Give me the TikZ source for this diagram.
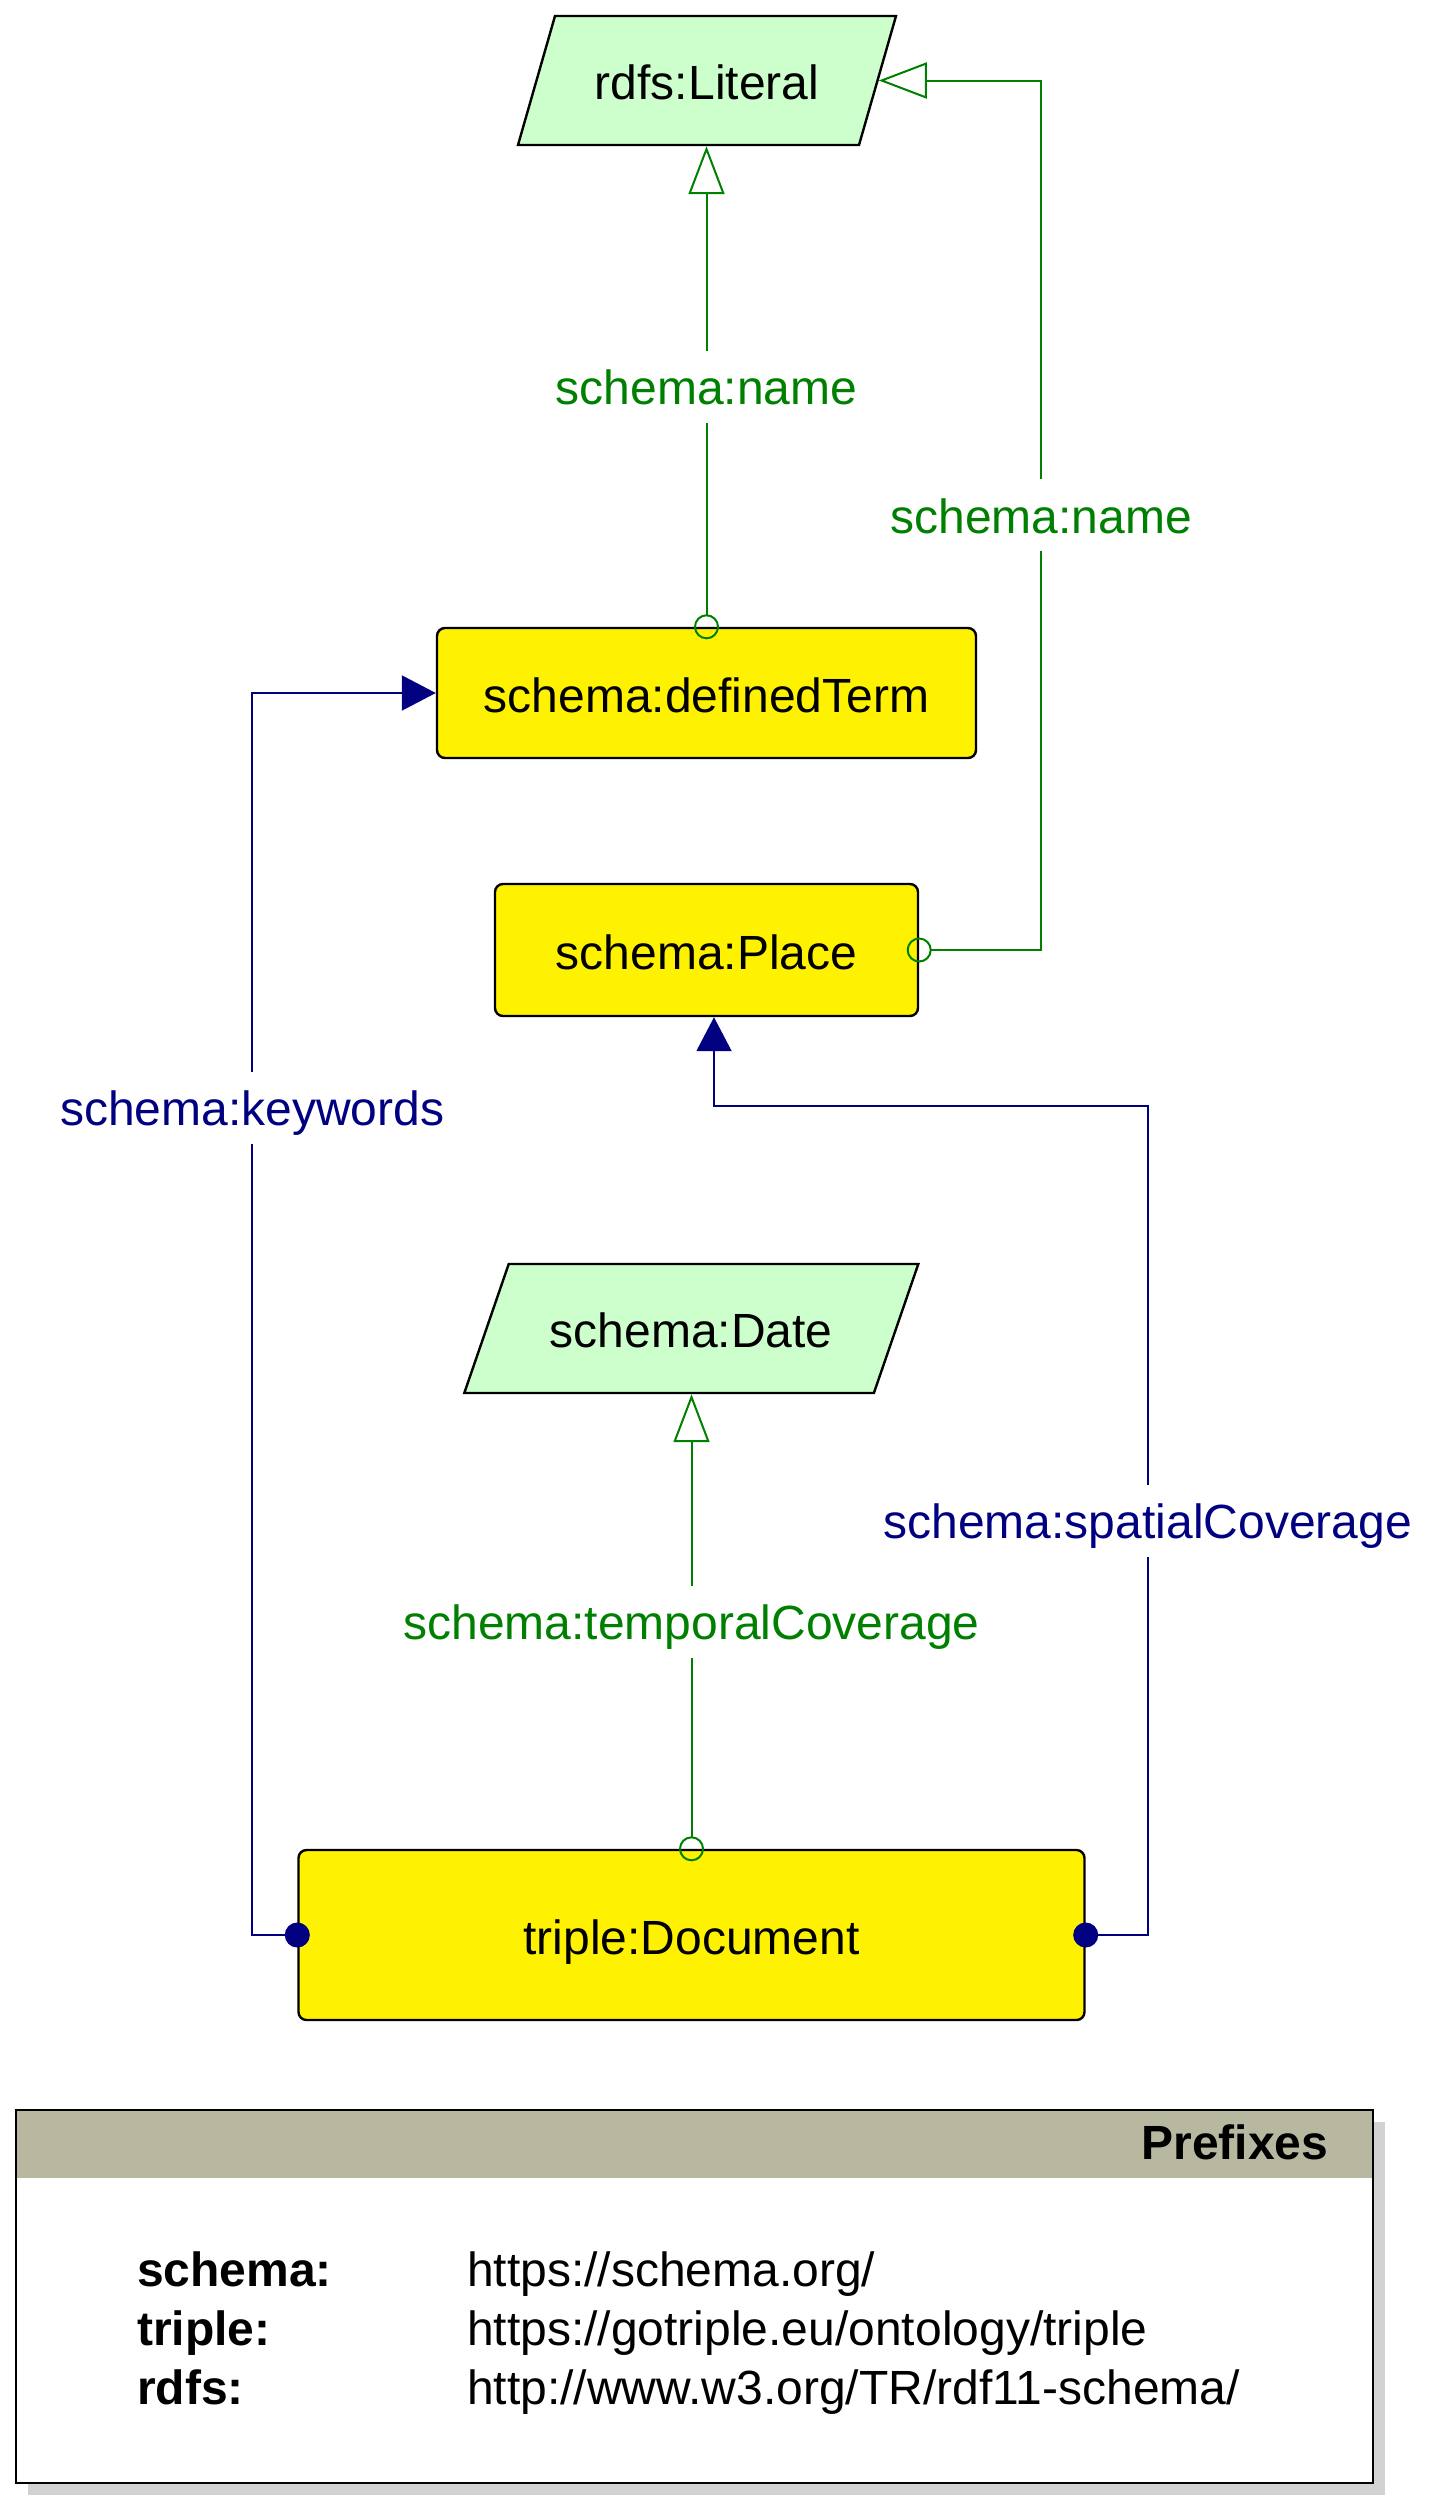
\documentclass[tikz,border=0pt]{standalone}
\usepackage{fontspec}
\setmainfont{Liberation Sans}
\usepackage{tikz}
\usetikzlibrary{positioning,arrows.meta,shapes.geometric,shadows}
\definecolor{propgreen}{RGB}{0,128,0}
\definecolor{propblue}{RGB}{0,0,128}
\definecolor{litfill}{RGB}{204,255,204}
\definecolor{headfill}{RGB}{184,184,160}
\definecolor{shadowgray}{RGB}{210,210,210}
\tikzset{>=stealth}
\tikzset{
  opentri/.tip={Triangle[open,length=24pt,width=18pt]},
  filltri/.tip={Triangle[length=17pt,width=17.5pt]},
  ocirc/.tip={Circle[open,length=12.5pt]},
  fcirc/.tip={Circle[length=12.5pt]},
  classbox/.style={draw,line width=1.2pt,fill=yellow,rounded corners=4pt,text height=19.5pt,text depth=0pt},
  litbox/.style={draw,line width=1.2pt,fill=litfill,trapezium,trapezium stretches body=true,inner ysep=23pt,text height=18.5pt,text depth=0pt},
  gline/.style={propgreen,line width=1pt,shorten <=-6.25pt},
  bline/.style={propblue,line width=1pt,shorten <=-6.25pt},
  lbl/.style={fill=white,inner xsep=2pt,inner ysep=6.5pt,text height=20.5pt,text depth=2.5pt},
  prefbox/.style={draw,line width=1.2pt,fill=white,
    drop shadow={shadow xshift=6pt,shadow yshift=-6pt,fill=shadowgray,opacity=1},
    path picture={\fill[headfill] (path picture bounding box.north west) rectangle ([yshift=-34pt]path picture bounding box.north east);}}
}

\begin{document}
\begin{tikzpicture}[x=0.5pt,y=-0.5pt,font=\fontsize{24}{29}\selectfont]
\useasboundingbox (0,0) rectangle (1434,2511);
% classes and datatypes
\node[litbox,trapezium left angle=74,trapezium right angle=106,minimum width=189pt] (lit) at (707,80.5) {rdfs:Literal};
\node[classbox,minimum width=269.5pt,minimum height=65pt] (dterm) at (706.5,693) {schema:definedTerm};
\node[classbox,minimum width=211.5pt,minimum height=66pt] (place) at (706.5,950) {schema:Place};
\node[litbox,trapezium left angle=71,trapezium right angle=109,minimum width=227pt] (date) at (691.3,1328.5) {schema:Date};
\node[classbox,minimum width=393pt,minimum height=85pt] (doc) at (691.5,1935) {triple:Document};
% properties
\draw[gline,ocirc-opentri] (dterm.north) -- node[lbl] {schema:name} (dterm.north |- lit.south);
\draw[gline,ocirc-opentri] (place.east) -- ++(122,0) |- node[lbl,pos=0.25] {schema:name} (lit.east);
\draw[bline,fcirc-filltri] (doc.west) -- ++(-45,0) |- node[lbl,pos=0.333] {schema:keywords} (dterm.west);
\coordinate (sc) at ([xshift=3.75pt,yshift=-44.5pt]place.south);
\draw[bline,fcirc-filltri] (doc.east) -- ++(62,0) |- node[lbl,pos=0.25] {schema:spatialCoverage} (sc) -- (sc |- place.south);
\draw[gline,ocirc-opentri] (doc.north) -- node[lbl] {schema:temporalCoverage} (doc.north |- date.south);
% prefixes
\node[prefbox,minimum width=678.5pt,minimum height=186.5pt] (pref) at (694.5,2296.5) {};
\node[anchor=east,font=\fontsize{24}{29}\selectfont\bfseries] (ptitle) at ([xshift=-19.5pt,yshift=-17pt]pref.north east) {Prefixes};
\node[anchor=base west,font=\fontsize{24}{29}\selectfont\bfseries] (pschema) at (130,2286) {schema:};
\node[anchor=base west] (uschema) at (460,2286) {https://schema.org/};
\node[anchor=base west,font=\fontsize{24}{29}\selectfont\bfseries] (ptriple) at (130,2345) {triple:};
\node[anchor=base west] (utriple) at (460,2345) {https://gotriple.eu/ontology/triple};
\node[anchor=base west,font=\fontsize{24}{29}\selectfont\bfseries] (prdfs) at (130,2404) {rdfs:};
\node[anchor=base west] (urdfs) at (460,2404) {http://www.w3.org/TR/rdf11-schema/};
\end{tikzpicture}
\end{document}
